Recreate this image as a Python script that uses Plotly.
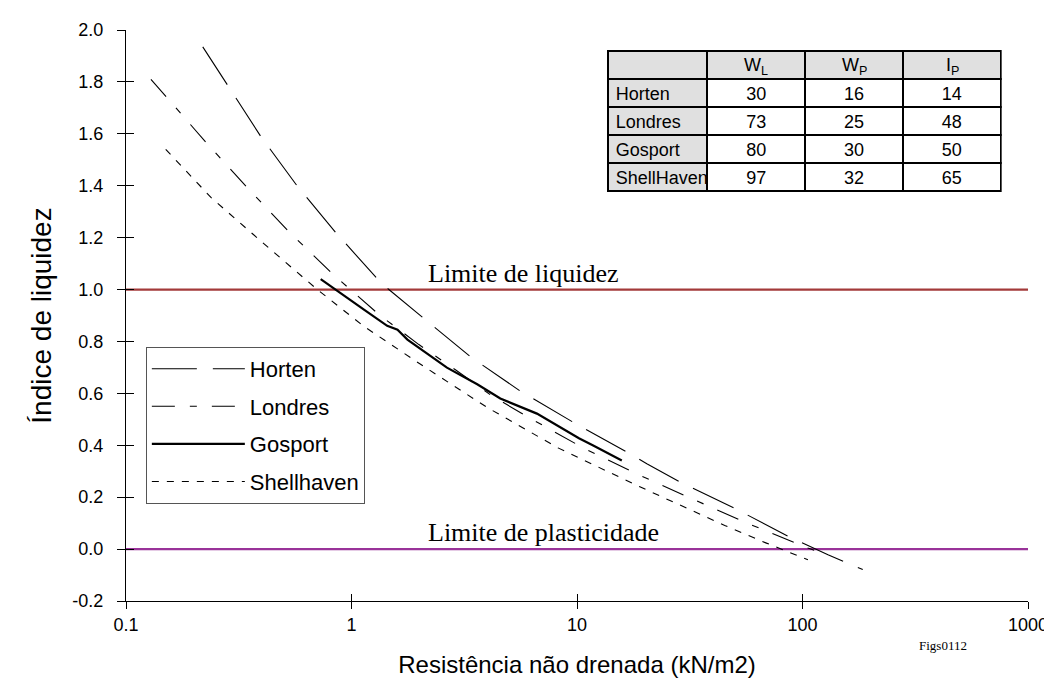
import plotly.graph_objects as go

# ---- data ----
horten_x = [0.219, 0.396, 0.571, 0.851, 1.29, 1.46, 2.06, 3.37, 5.60, 9.65, 16.6, 20.4, 28.6, 50.1, 86.3, 129.7, 185]
horten_y = [1.935, 1.590, 1.402, 1.220, 1.045, 1.001, 0.894, 0.741, 0.609, 0.488, 0.374, 0.329, 0.259, 0.157, 0.049, -0.022, -0.079]

londres_x = [0.129, 0.228, 0.346, 0.532, 0.830, 1.33, 1.99, 2.9, 4.2, 6.2, 10.7, 18.7, 33.3, 58.3, 105.7, 129.7]
londres_y = [1.810, 1.564, 1.391, 1.220, 1.058, 0.902, 0.788, 0.69, 0.59, 0.504, 0.389, 0.287, 0.189, 0.096, 0.004, -0.024]

gosport_x = [0.73, 0.96, 1.14, 1.44, 1.60, 1.77, 2.65, 3.61, 4.57, 6.64, 8.72, 10.2, 11.8, 15.8]
gosport_y = [1.040, 0.966, 0.922, 0.860, 0.845, 0.807, 0.699, 0.635, 0.580, 0.522, 0.463, 0.427, 0.399, 0.341]

shell_x = [0.150, 0.238, 0.390, 0.694, 1.135, 2.0, 3.99, 8.28, 19.0, 45.2, 69.2, 105.7]
shell_y = [1.540, 1.355, 1.192, 1.005, 0.858, 0.715, 0.546, 0.389, 0.240, 0.091, 0.023, -0.041]

liquid_limit = 1.0
plastic_limit = 0.0

table_names = ["Horten", "Londres", "Gosport", "ShellHaven"]
table_wl = [30, 73, 80, 97]
table_wp = [16, 25, 30, 32]
table_ip = [14, 48, 50, 65]
table_header = ["W<sub>L</sub>", "W<sub>P</sub>", "I<sub>P</sub>"]

x_tickvals = [0.1, 1, 10, 100, 1000]
x_ticktext = ["0.1", "1", "10", "100", "1000"]
y_tickvals = [-0.2, 0.0, 0.2, 0.4, 0.6, 0.8, 1.0, 1.2, 1.4, 1.6, 1.8, 2.0]
y_ticktext = ["-0.2", "0.0", "0.2", "0.4", "0.6", "0.8", "1.0", "1.2", "1.4", "1.6", "1.8", "2.0"]

SANS = "Liberation Sans, Arial, sans-serif"
SERIF = "Liberation Serif, Times New Roman, serif"

fig = go.Figure()

fig.add_trace(go.Scatter(x=horten_x, y=horten_y, name="Horten", mode="lines",
                         line=dict(color="black", width=1.1, dash="45px,16px"),
                         legendgroup="a"))
fig.add_trace(go.Scatter(x=londres_x, y=londres_y, name="Londres", mode="lines",
                         line=dict(color="black", width=1.1, dash="23px,15px,7px,15px"),
                         legendgroup="b"))
fig.add_trace(go.Scatter(x=gosport_x, y=gosport_y, name="Gosport", mode="lines",
                         line=dict(color="black", width=2.2),
                         legendgroup="c"))
fig.add_trace(go.Scatter(x=shell_x, y=shell_y, name="Shellhaven", mode="lines",
                         line=dict(color="black", width=1.1, dash="7px,8px"),
                         legendgroup="d"))

# invisible trace on overlay axes (for crossing tick marks)
fig.add_trace(go.Scatter(x=[None], y=[None], xaxis="x2", yaxis="y2",
                         showlegend=False, hoverinfo="skip"))

fig.add_hline(y=liquid_limit, line=dict(color="#A33A3A", width=2.2), layer="below")
fig.add_hline(y=plastic_limit, line=dict(color="#993399", width=2.2), layer="below")

fig.add_annotation(text="Limite de liquidez", xref="paper", yref="y", x=0.333, y=liquid_limit,
                   xanchor="left", yanchor="bottom", showarrow=False,
                   font=dict(family=SERIF, size=26, color="black"))
fig.add_annotation(text="Limite de plasticidade", xref="paper", yref="y", x=0.333, y=plastic_limit,
                   xanchor="left", yanchor="bottom", showarrow=False,
                   font=dict(family=SERIF, size=26, color="black"))
fig.add_annotation(text="Figs0112", xref="paper", yref="paper", x=0.906, y=-0.078,
                   xanchor="center", yanchor="middle", showarrow=False,
                   font=dict(family=SERIF, size=13, color="black"))

# ---- table ----
gray = "#E0E0E0"
tbl_x0, tbl_x1 = 0.534, 0.970
col_w = [100, 98, 98, 98]
fig.add_trace(go.Table(
    domain=dict(x=[tbl_x0, tbl_x1], y=[0.70, 0.9635]),
    columnwidth=col_w,
    header=dict(values=["", "", "", ""], height=28, fill_color=gray,
                line=dict(color="black", width=2), align="center",
                font=dict(family=SANS, size=18, color="black")),
    cells=dict(values=[table_names, table_wl, table_wp, table_ip], height=28,
               fill_color=[[gray] * 4, ["white"] * 4, ["white"] * 4, ["white"] * 4],
               line=dict(color="black", width=2),
               align=["left", "center", "center", "center"],
               font=dict(family=SANS, size=18, color="black")),
))
# header labels (with subscripts) centred over the header cells
tot = sum(col_w)
edge = tbl_x0
for i, w in enumerate(col_w):
    frac = w / tot * (tbl_x1 - tbl_x0)
    if i > 0:
        fig.add_annotation(text=table_header[i - 1], xref="paper", yref="paper",
                           x=edge + frac / 2, y=0.9635, yanchor="top", xanchor="center",
                           yshift=-2, showarrow=False,
                           font=dict(family=SANS, size=18, color="black"))
    edge += frac

axis_common = dict(showgrid=False, zeroline=False, color="black")

fig.update_layout(
    width=1052, height=698,
    margin=dict(l=118, r=30, t=18, b=105),
    paper_bgcolor="white", plot_bgcolor="white",
    showlegend=True,
    legend=dict(x=0.022, y=0.445, xanchor="left", yanchor="top",
                bordercolor="#555", borderwidth=1, bgcolor="white",
                font=dict(family=SANS, size=22, color="black"),
                tracegroupgap=6, itemwidth=93),
    xaxis=dict(type="log", range=[-1, 3], tickmode="array", tickvals=x_tickvals, ticktext=x_ticktext,
               showline=True, linecolor="black", linewidth=1.3,
               ticks="outside", ticklen=7, tickwidth=1.3, tickcolor="black",
               tickfont=dict(family=SANS, size=18, color="black"),
               title=dict(text="Resistência não drenada (kN/m2)", standoff=22,
                          font=dict(family=SANS, size=24, color="black")),
               **axis_common),
    yaxis=dict(range=[-0.2, 2.0], tickmode="array", tickvals=y_tickvals, ticktext=y_ticktext,
               showline=True, linecolor="black", linewidth=1.3,
               ticks="outside", ticklen=8, tickwidth=1.3, tickcolor="black",
               ticklabelstandoff=10,
               tickfont=dict(family=SANS, size=18, color="black"),
               title=dict(text="Índice de liquidez", standoff=12,
                          font=dict(family=SANS, size=28, color="black")),
               **axis_common),
    xaxis2=dict(type="log", range=[-1, 3], overlaying="x", anchor="y", tickmode="array",
                tickvals=x_tickvals, showticklabels=False, ticks="inside", ticklen=7,
                tickwidth=1.3, tickcolor="black", showline=False, **axis_common),
    yaxis2=dict(range=[-0.2, 2.0], overlaying="y", anchor="x", tickmode="array",
                tickvals=y_tickvals, showticklabels=False, ticks="inside", ticklen=8, tickwidth=1.3,
                tickcolor="black", showline=False, **axis_common),
)

fig.write_html("out.html")
